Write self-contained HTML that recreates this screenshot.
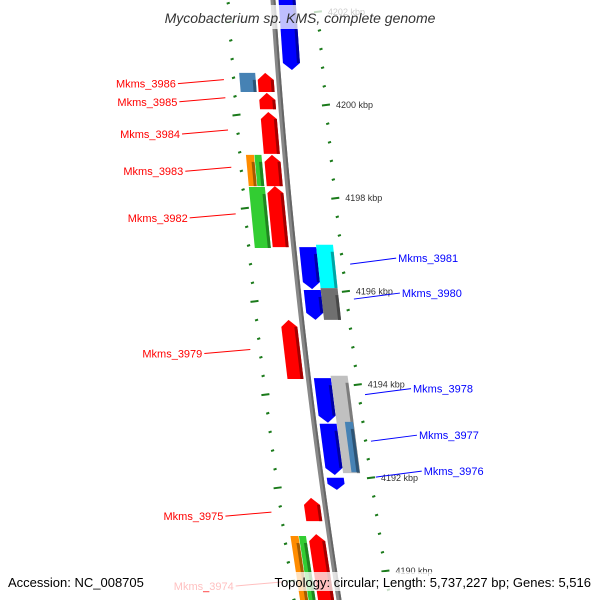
<!DOCTYPE html>
<html><head><meta charset="utf-8"><style>
body{margin:0;background:#fff}
svg{display:block;font-family:"Liberation Sans","DejaVu Sans",sans-serif}
</style></head><body>
<svg id="map" width="600" height="600" viewBox="0 0 600 600" xmlns="http://www.w3.org/2000/svg">
<g id="ticks"></g>
<g id="backbone"></g>
<g id="genes"></g>
<g id="labels"></g>
<rect x="0" y="5" width="600" height="24" fill="#fff" opacity="0.75"/>
<text x="300" y="23" text-anchor="middle" font-size="14" font-style="italic" fill="#333">Mycobacterium sp. KMS, complete genome</text>
<rect x="0" y="572" width="600" height="19" fill="#fff" opacity="0.75"/>
<text x="8" y="587" font-size="13" fill="#000">Accession: NC_008705</text>
<text x="591" y="587" text-anchor="end" font-size="13" fill="#000">Topology: circular; Length: 5,737,227 bp; Genes: 5,516</text>
</svg>
<script>
// gene data (kbp)
const geneNames=["top","3986b","3986","3985","3984","3983o","3983g","3983","3982g","3982","3981","3981c","3980","3980g","3979","3978","3978g","3977","3977s","3976","3975","3974o","3974g","3974","topgray"];
const geneStart=[4202.47,4200.69,4200.69,4200.26,4199.85,4198.93,4198.93,4198.93,4198.24,4198.26,4196.95,4197.00,4196.03,4196.07,4195.39,4194.14,4194.19,4193.16,4193.20,4192.00,4191.57,4190.75,4190.75,4190.79,4202.60];
const geneEnd=[4200.75,4200.28,4200.28,4199.91,4198.95,4198.26,4198.26,4198.26,4196.93,4196.95,4196.05,4196.07,4195.39,4195.39,4194.12,4193.18,4192.10,4192.06,4192.12,4191.74,4191.07,4189.10,4189.10,4189.10,4202.50];
const geneTrack=[1,-2,-1,-1,-1,-3,-4,-1,-2,-1,1,2,1,2,-1,1,2,1,3,1,-1,-3,-4,-1,2];
const geneStrand=[1,0,-1,-1,-1,0,0,-1,0,-1,1,0,1,0,-1,1,0,1,0,1,-1,0,0,-1,0];
const geneColor=["#0000ff","#4682b4","#ff0000","#ff0000","#ff0000","#ff8c00","#32cd32","#ff0000","#32cd32","#ff0000","#0000ff","#00ffff","#0000ff","#707070","#ff0000","#0000ff","#c0c0c0","#0000ff","#4682b4","#0000ff","#ff0000","#ff8c00","#32cd32","#ff0000","#707070"];
const tickLabels=[4202,4200,4198,4196,4194,4192,4190];
const labelNames=["Mkms_3986","Mkms_3985","Mkms_3984","Mkms_3983","Mkms_3982","Mkms_3979","Mkms_3975","Mkms_3974","Mkms_3981","Mkms_3980","Mkms_3978","Mkms_3977","Mkms_3976"];
const labelKbp=[4200.48,4200.09,4199.40,4198.60,4197.60,4194.69,4191.20,4189.70,4196.65,4195.90,4193.85,4192.85,4192.08];
const labelSide=[-1,-1,-1,-1,-1,-1,-1,-1,1,1,1,1,1];

const NS="http://www.w3.org/2000/svg";
function yOf(k){return 105+(4200-k)*46.6;}
function bb(y){return 273+0.0655*y+0.0000742*y*y;}
const trackOff={1:14,2:31,3:35,"-1":-13,"-2":-31,"-3":-35,"-4":-27};
const trackW={1:17,2:17,3:8,"-1":16,"-2":16,"-3":8,"-4":7};
function mk(tag,attrs,parent){const e=document.createElementNS(NS,tag);for(const k in attrs)e.setAttribute(k,attrs[k]);parent.appendChild(e);return e;}

// backbone
const bbg=document.getElementById('backbone');
let pts=[];for(let y=-5;y<=605;y+=10)pts.push(bb(y)+','+y);
const bl=mk('polyline',{points:pts.join(' '),fill:'none',stroke:'#888','stroke-width':5},bbg);


const bl2=mk('polyline',{points:pts.map(p=>{const [x,y]=p.split(',');return (+x+1.5)+','+y;}).join(' '),fill:'none',stroke:'#666','stroke-width':2},bbg);



// ticks
const tg=document.getElementById('ticks');
for(let i=0;i<=38;i++){
  const k=4203.2-i*0.4;const y=yOf(k);if(y<-5||y>605)continue;
  const major=Math.abs(k-Math.round(k))<0.01&&Math.round(k)%2===0;
  const off=44+0.012*y;const x=bb(y)+off;const len=major?8:3;
  const t=mk('line',{x1:x-len/2,y1:y+0.5,x2:x+len/2,y2:y-0.5,stroke:'#1a7a1a','stroke-width':2},tg);
  
  
}
for(let i=-8;i<=30;i++){
  const k=4199.785-i*0.4;const y=yOf(k);if(y<-5||y>605)continue;
  const major=((i%5)+5)%5===0;const x=bb(y)-45;const len=major?8:3;
  const t=mk('line',{x1:x-len/2,y1:y+0.5,x2:x+len/2,y2:y-0.5,stroke:'#1a7a1a','stroke-width':2},tg);
  
  
}
tickLabels.forEach(k=>{
  const y=yOf(k);const x=bb(y)+44+0.012*y+10;
  const t=mk('text',{x:x,y:y+3,'font-size':9,fill:'#333'},tg);
  t.textContent=k+' kbp';
  
  
});

// genes
const gg=document.getElementById('genes');
function shade(c){const n=parseInt(c.slice(1),16);const r=(n>>16)*0.65|0,g=((n>>8)&255)*0.65|0,b=(n&255)*0.65|0;return `rgb(${r},${g},${b})`;}
geneNames.forEach((nm,i)=>{
  const y1=yOf(geneStart[i]),y2=yOf(geneEnd[i]);const tr=geneTrack[i];
  const off=trackOff[tr],w=trackW[tr];const st=geneStrand[i];
  const L=y=>bb(y)+off-w/2,R=y=>bb(y)+off+w/2,C=y=>bb(y)+off;
  const h=Math.min(7,(y2-y1)/2);let p;
  if(st===1)p=[[L(y1),y1],[R(y1),y1],[R(y2-h),y2-h],[C(y2),y2],[L(y2-h),y2-h]];
  else if(st===-1)p=[[C(y1),y1],[R(y1+h),y1+h],[R(y2),y2],[L(y2),y2],[L(y1+h),y1+h]];
  else p=[[L(y1),y1],[R(y1),y1],[R(y2),y2],[L(y2),y2]];
  const g=mk('polygon',{points:p.map(q=>q.join(',')).join(' '),fill:geneColor[i]},gg);
  
  
  const s=mk('polygon',{points:[[R(y1+h)-3,y1+h],[R(y1+h),y1+h],[R(y2-(st===1?h:0)),y2-(st===1?h:0)],[R(y2-(st===1?h:0))-3,y2-(st===1?h:0)]].map(q=>q.join(',')).join(' '),fill:shade(geneColor[i])},gg);
  
  
});

// labels
const lg=document.getElementById('labels');
labelNames.forEach((nm,i)=>{
  const y=yOf(labelKbp[i]);const side=labelSide[i];
  const col=side<0?'#ff0000':'#0000ff';
  if(side<0){
    const gx=bb(y)-55;const tx=gx-48;
    const l=mk('line',{x1:gx,y1:y-3,x2:tx+2,y2:y+1,stroke:col,'stroke-width':1},lg);
    
    
    const t=mk('text',{x:tx,y:y+5,'text-anchor':'end','font-size':11,fill:col},lg);
    t.textContent=nm;
    
    
  }else{
    const gx=bb(y)+55;const tx=gx+48;
    const l=mk('line',{x1:gx,y1:y+3,x2:tx-2,y2:y-3,stroke:col,'stroke-width':1},lg);
    
    
    const t=mk('text',{x:tx,y:y+1,'font-size':11,fill:col},lg);
    t.textContent=nm;
    
    
  }
});
</script>
</body></html>
